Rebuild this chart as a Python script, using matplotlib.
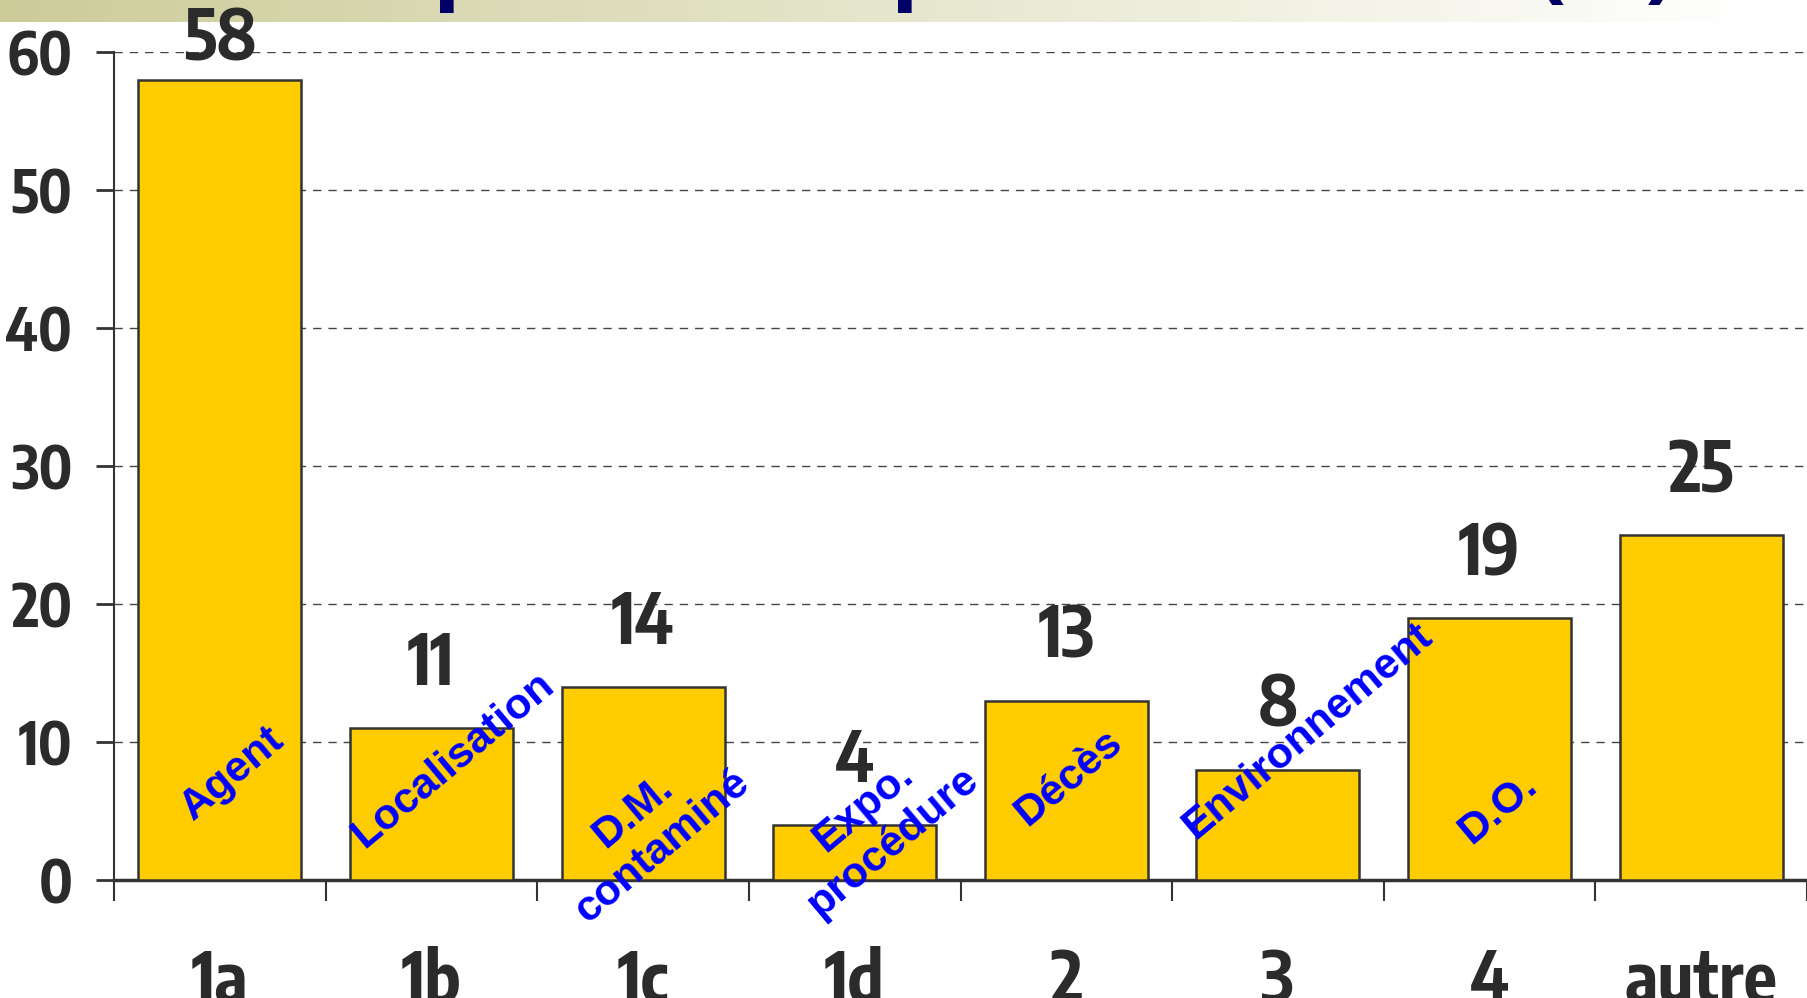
import matplotlib
matplotlib.use("Agg")
import matplotlib.pyplot as plt
import numpy as np

# data
categories = ["1a", "1b", "1c", "1d", "2", "3", "4", "autre"]
counts = [58, 11, 14, 4, 13, 8, 19, 25]
descriptions = ["Agent", "Localisation", "D.M.\ncontaminé", "Expo.\nprocédure",
                "Décès", "Environnement", "D.O.", ""]
yticks = [0, 10, 20, 30, 40, 50, 60]

# where each blue caption sits: shift from bar centre, height in data units
caption_pos = [(0.06, 7.7), (0.10, 8.7), (0.02, 3.7), (0.11, 4.0),
               (0.01, 7.4), (0.14, 10.8), (0.04, 5.2), (0.0, 0.0)]

W, H = 1807, 998
narrow = ["Encode Sans Condensed", "DejaVu Sans"]
sans = ["Liberation Sans", "DejaVu Sans"]
dark = "#2b2b2b"

fig = plt.figure(figsize=(W / 100, H / 100), dpi=100)

# banner strip at the top (gradient khaki -> white)
bax = fig.add_axes([0, 1 - 22 / H, 1, 22 / H], zorder=0)
grad = np.linspace(0, 1, 400)
c0 = np.array([204, 204, 153]) / 255
img = c0[None, :] * (1 - grad[:, None]) + grad[:, None]
bax.imshow(img[None, :, :], aspect="auto", extent=[0, 1754 / W, 0, 1])
bax.set_xlim(0, 1)
bax.axis("off")

# bits of the cut-off title
for xp in (432, 890):
    fig.text(xp / W, 1 + 8 / H, "p", fontsize=72, fontweight="bold",
             color="#000066", family=sans, ha="left", va="baseline")
fig.text(1536 / W, 1 + 12 / H, "(", fontsize=60, fontweight="bold",
         color="#000066", family=sans, ha="left", va="baseline")
fig.text(1676 / W, 1 + 12 / H, ")", fontsize=60, fontweight="bold",
         color="#000066", family=sans, ha="right", va="baseline")

ax = fig.add_axes([114 / W, 1 - 880 / H, 1 - 114 / W, (880 - 52) / H], zorder=1)
x = np.arange(len(categories))
ax.bar(x, counts, width=0.77, color="#ffcc00", edgecolor="#333333",
       linewidth=1.8, zorder=3)
ax.set_xlim(-0.5, len(categories) - 0.5)
ax.set_ylim(0, 60)
ax.set_yticks(yticks)
ax.set_yticklabels([str(t) for t in yticks], fontsize=42, fontweight="bold",
                   family=narrow, color=dark)
ax.yaxis.grid(True, linestyle=(0, (6, 5)), color="#444444", linewidth=1.0)
ax.set_axisbelow(True)
for s in ["top", "right"]:
    ax.spines[s].set_visible(False)
ax.spines["left"].set_color("#333333")
ax.spines["left"].set_linewidth(1.5)
ax.spines["bottom"].set_color("#333333")
ax.spines["bottom"].set_linewidth(2.5)
ax.tick_params(axis="y", length=13, width=2, pad=17, color="#333333")

# ticks between bars, labels under bar centres
ax.set_xticks(np.arange(len(categories) + 1) - 0.5)
ax.set_xticklabels([])
ax.set_xticks(x, minor=True)
ax.set_xticklabels(categories, minor=True, fontsize=50, fontweight="bold",
                   family=narrow, color=dark)
ax.tick_params(axis="x", which="major", length=15, width=1.5, color="#333333")
ax.tick_params(axis="x", which="minor", length=0, pad=47)

# value labels
for i, v in enumerate(counts):
    ax.text(i, min(v + 3.1, 59.4), str(v), ha="center", va="baseline",
            fontsize=50, fontweight="bold", family=narrow, color=dark,
            zorder=6)

# blue captions
for i, (txt, (dx, yy)) in enumerate(zip(descriptions, caption_pos)):
    if not txt:
        continue
    ax.text(i + dx, yy, txt, rotation=40, ha="center", va="center",
            multialignment="center", fontsize=31, fontweight="bold",
            family=sans, color="#0000ff", zorder=7, linespacing=1.2)

fig.savefig("out.png", dpi=100)
